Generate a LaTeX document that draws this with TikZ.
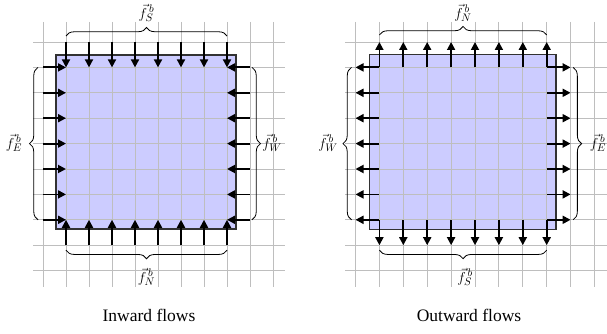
\documentclass[tikz,border=0pt]{standalone}
\usepackage{fontspec}
\setmainfont{Liberation Serif}
\usetikzlibrary{arrows.meta,decorations.pathreplacing}
\definecolor{gridgray}{RGB}{190,190,190}
\definecolor{boxfill}{RGB}{204,204,255}
\definecolor{boxline}{RGB}{50,50,50}
\begin{document}
\begin{tikzpicture}[x=1pt,y=-1pt,
  gridline/.style={draw=gridgray,line width=0.9pt},
  regionline/.style={draw=boxline,line width=1.4pt},
  flow/.style={line width=1.8pt,-{Triangle[length=8pt,width=8pt]}},
  bracedeco/.style={decorate,decoration={brace,amplitude=8.5pt},line width=0.8pt},
  lab/.style={font=\fontsize{15}{17}\selectfont,inner sep=0pt},
  capt/.style={font=\fontsize{17.5}{20}\selectfont,inner sep=0pt}]
\useasboundingbox (0,0) rectangle (607,334);
% named grid points
\foreach \i in {0,...,10} {
  \foreach \j in {0,...,9} {
    \coordinate (L-\i-\j) at ({43+23*\i},{42+25.4*\j});
    \coordinate (R-\i-\j) at ({355.5+23.9*\i},{42+25.4*\j});
  }
}
% region fills
\path[fill=boxfill] (56,55) rectangle (236,229);
\path[fill=boxfill] (369.3,54.3) rectangle (556,229.3);
% grids
\foreach \i in {0,...,10} {
  \draw[gridline] ({43+23*\i},22) -- ({43+23*\i},287);
  \draw[gridline] ({355.5+23.9*\i},22) -- ({355.5+23.9*\i},287);
}
\foreach \j in {0,...,9} {
  \draw[gridline] (33,{42+25.4*\j}) -- (285,{42+25.4*\j});
  \draw[gridline] (345,{42+25.4*\j}) -- (607,{42+25.4*\j});
}
% region borders
\draw[regionline] (56,55) rectangle (236,229);
\draw[regionline] (369.3,54.3) rectangle (556,229.3);
% inward flows
\foreach \i in {1,...,8} {
  \draw[flow] (L-\i-0) -- (L-\i-1);
  \draw[flow] (L-\i-8) -- (L-\i-7);
}
\foreach \j in {1,...,7} {
  \draw[flow] (L-0-\j) -- (L-1-\j);
  \draw[flow] (L-9-\j) -- (L-8-\j);
}
% outward flows
\foreach \i in {1,...,8} {
  \draw[flow] (R-\i-1) -- (R-\i-0);
  \draw[flow] (R-\i-7) -- (R-\i-8);
}
\foreach \j in {1,...,7} {
  \draw[flow] (R-1-\j) -- (R-0-\j);
  \draw[flow] (R-8-\j) -- (R-9-\j);
}
% braces inward
\draw[bracedeco] ([yshift=6pt]L-1-0) -- ([yshift=6pt]L-8-0);
\draw[bracedeco] ([xshift=-5pt]L-0-7) -- ([xshift=-5pt]L-0-1);
\draw[bracedeco] ([xshift=2pt]L-9-1) -- ([xshift=2pt]L-9-7);
\draw[bracedeco] ([yshift=-5pt]L-8-8) -- ([yshift=-5pt]L-1-8);
% braces outward
\draw[bracedeco] ([yshift=7pt]R-1-0) -- ([yshift=7pt]R-8-0);
\draw[bracedeco] ([xshift=-4pt]R-0-7) -- ([xshift=-4pt]R-0-1);
\draw[bracedeco] ([xshift=2.5pt]R-9-1) -- ([xshift=2.5pt]R-9-7);
\draw[bracedeco] ([yshift=-5pt]R-8-8) -- ([yshift=-5pt]R-1-8);
% labels
\node[lab] (inS) at (146.5,13) {$\vec{f}^{\,b}_{S}$};
\node[lab] (inE) at (14,143) {$\vec{f}^{\,b}_{E}$};
\node[lab] (inW) at (272,143) {$\vec{f}^{\,b}_{W}$};
\node[lab] (inN) at (146.5,277) {$\vec{f}^{\,b}_{N}$};
\node[lab] (outN) at (463,13) {$\vec{f}^{\,b}_{N}$};
\node[lab] (outW) at (328,143) {$\vec{f}^{\,b}_{W}$};
\node[lab] (outE) at (598,143) {$\vec{f}^{\,b}_{E}$};
\node[lab] (outS) at (465,277) {$\vec{f}^{\,b}_{S}$};
% captions
\node[capt] (capIn) at (149,315) {Inward flows};
\node[capt] (capOut) at (469,315) {Outward flows};
\end{tikzpicture}
\end{document}
